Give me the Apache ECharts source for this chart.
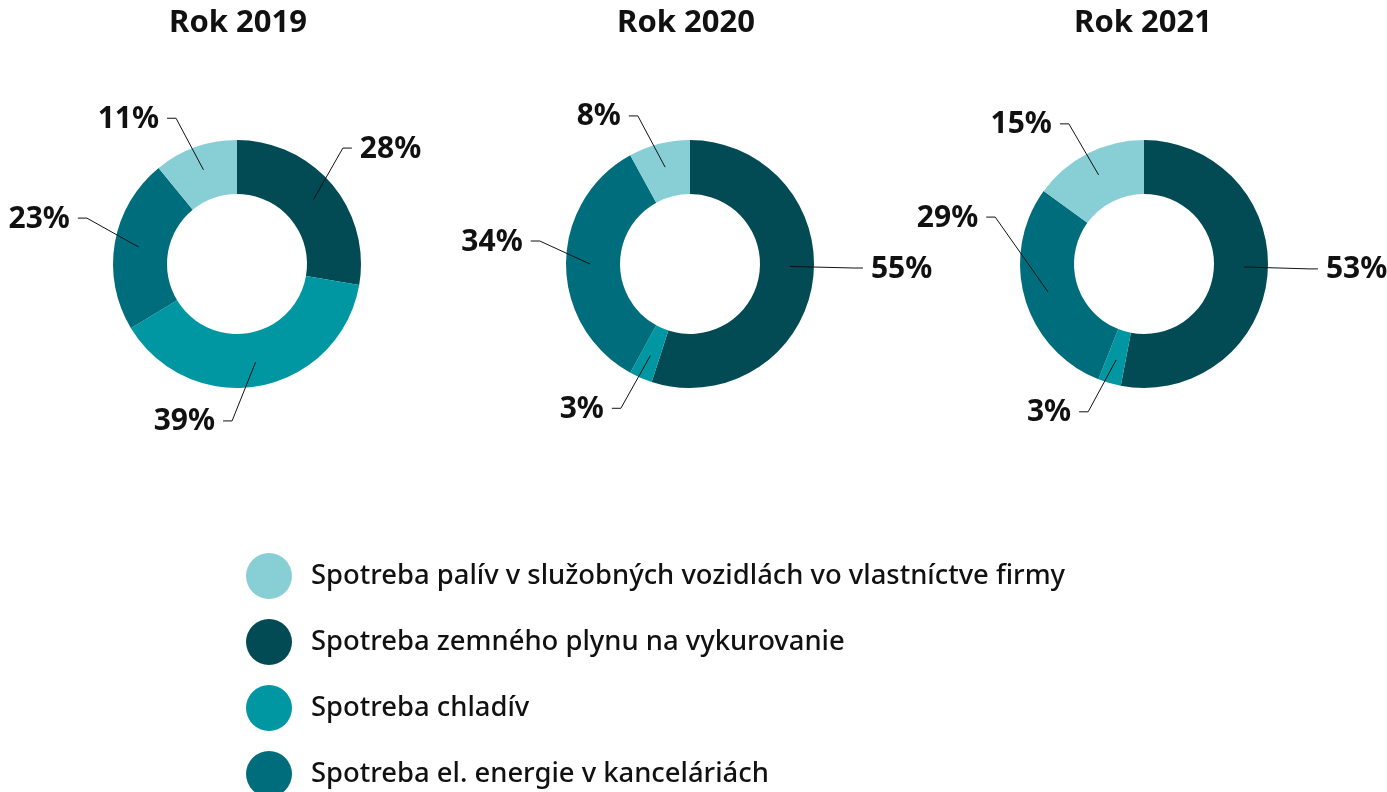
<!DOCTYPE html>
<html>
<head>
<meta charset="utf-8">
<script src="https://cdn.jsdelivr.net/npm/echarts@6/dist/echarts.min.js"></script>
<style>
  html, body { margin: 0; padding: 0; background: #fff; }
  #chart { width: 1387px; height: 792px; }
</style>
</head>
<body>
<div id="chart"></div>
<script>
const categories = [
    'Spotreba zemného plynu na vykurovanie',
    'Spotreba chladív',
    'Spotreba el. energie v kanceláriách',
    'Spotreba palív v služobných vozidlách vo vlastníctve firmy'
];
const legendOrder = [
    'Spotreba palív v služobných vozidlách vo vlastníctve firmy',
    'Spotreba zemného plynu na vykurovanie',
    'Spotreba chladív',
    'Spotreba el. energie v kanceláriách'
];
const years = ['Rok 2019', 'Rok 2020', 'Rok 2021'];
const values2019 = [28, 39, 23, 11];
const values2020 = [55, 3, 34, 8];
const values2021 = [53, 3, 29, 15];
const colors = ['#024B55', '#0097A2', '#006D7C', '#88CFD5'];

const allValues = [values2019, values2020, values2021];
const centersX = [237, 690, 1144];
const titleX = [238, 686, 1143];
const centerY = 264;
const font = '"Noto Sans", "Open Sans", sans-serif';

// where each label line bends: [angle deg, radius px, start angle override]
const labelSpots = [
    [[47.6, 157], [-91.8, 157], [163, 157], [112.7, 158]],
    [[-1.4, 164, -1.4], [-115.6, 160], [171.3, 152], [109.4, 157]],
    [[-1.7, 165, -1.7], [-110.7, 158], [162.5, 156], [118.2, 159]]
];

let myChart = echarts.init(document.getElementById('chart'));

const makeLabelLayout = (i) => (p) => {
    const spot = labelSpots[i][p.dataIndex];
    const cx = centersX[i], cy = centerY;
    const a = spot[0] * Math.PI / 180;
    const bx = cx + spot[1] * Math.cos(a);
    const by = cy - spot[1] * Math.sin(a);
    let start = p.labelLinePoints ? p.labelLinePoints[0].slice() : [cx, cy];
    if (spot[2] != null) {
        const s = spot[2] * Math.PI / 180;
        start = [cx + 100 * Math.cos(s), cy - 100 * Math.sin(s)];
    }
    const right = Math.cos(a) > 0;
    const ex = bx + (right ? 9 : -9);
    return {
        x: ex + (right ? 8 : -8),
        y: by + 1,
        align: right ? 'left' : 'right',
        verticalAlign: 'middle',
        labelLinePoints: [start, [bx, by], [ex, by]]
    };
};

const series = [];
allValues.forEach((vals, i) => {
    const data = vals.map((v, j) => ({ name: categories[j], value: v }));
    // the ring itself
    series.push({
        type: 'pie',
        z: 2,
        center: [centersX[i], centerY],
        radius: [70, 124],
        startAngle: 90,
        clockwise: true,
        silent: true,
        label: { show: false },
        labelLine: { show: false },
        itemStyle: {
            color: (p) => colors[p.dataIndex]
        },
        data: data
    });
    // invisible pie only for labels, so the lines start inside the ring
    series.push({
        type: 'pie',
        z: 5,
        center: [centersX[i], centerY],
        radius: [0, 100],
        startAngle: 90,
        clockwise: true,
        silent: true,
        legendHoverLink: false,
        itemStyle: { color: 'rgba(0,0,0,0)' },
        label: {
            show: true,
            position: 'outside',
            formatter: '{c}%',
            fontFamily: font,
            fontWeight: 'bold',
            fontSize: 30,
            color: '#111',
            overflow: 'none'
        },
        labelLine: {
            show: true,
            length: 58,
            length2: 10,
            lineStyle: { color: '#111', width: 1 }
        },
        labelLayout: makeLabelLayout(i),
        data: data.map(d => ({ name: d.name + ' ', value: d.value }))
    });
});

myChart.setOption({
    animation: false,
    color: colors,
    title: years.map((y, i) => ({
        text: y,
        left: titleX[i],
        top: 8,
        padding: 0,
        textAlign: 'center',
        textStyle: {
            fontFamily: font,
            fontWeight: 'bold',
            fontSize: 31,
            color: '#111'
        }
    })),
    legend: {
        orient: 'vertical',
        left: 246,
        top: 553,
        height: 300,
        padding: 0,
        icon: 'circle',
        itemWidth: 46,
        itemHeight: 46,
        itemGap: 20,
        selectedMode: false,
        data: legendOrder,
        textStyle: {
            fontFamily: font,
            fontWeight: 500,
            fontSize: 27.4,
            color: '#111',
            padding: [0, 0, 0, 14]
        }
    },
    series: series
});
window.addEventListener('resize', () => {
    myChart.resize();
});
</script>
</body>
</html>
